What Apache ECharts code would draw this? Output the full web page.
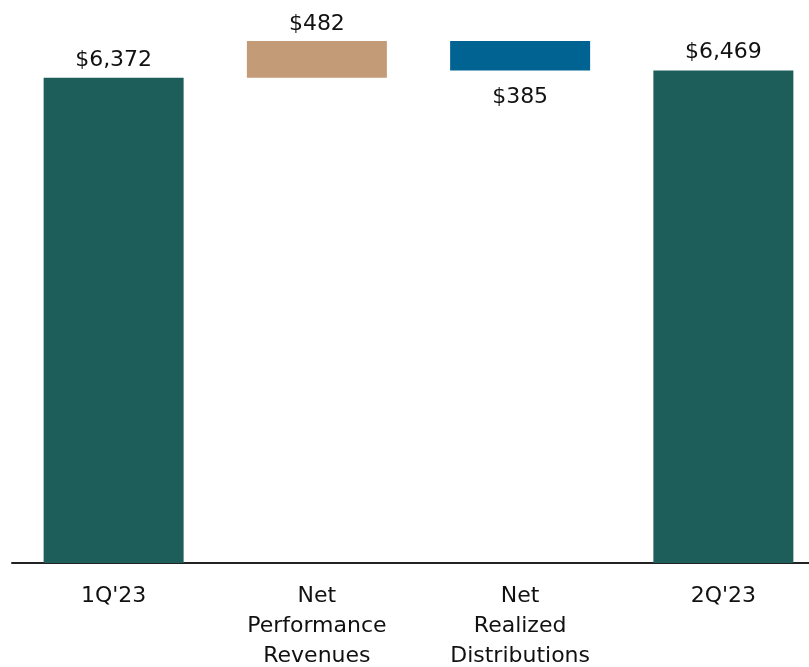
<!DOCTYPE html>
<html><head><meta charset="utf-8">
<script src="https://cdn.jsdelivr.net/npm/echarts@6/dist/echarts.min.js"></script>
<style>html,body{margin:0;padding:0;background:#fff}#c{width:809px;height:667px}</style>
</head><body><div id="c"></div>
<script>
var categories = ["1Q'23", "Net\nPerformance\nRevenues", "Net\nRealized\nDistributions", "2Q'23"];
var startValue = 6372;
var perfRevenues = 482;
var realizedDistributions = 385;
var endValue = 6469;

var visible = [startValue, perfRevenues, realizedDistributions, endValue];
var base = [0, startValue, startValue + perfRevenues - realizedDistributions, 0];
var colors = ['#1E5E5A', '#C49B77', '#006391', '#1E5E5A'];
var labelPos = ['top', 'top', 'bottom', 'top'];
var labelDist = [7, 6, 16, 7];

function fmt(v){ return '$' + v.toLocaleString('en-US'); }

var font = '"DejaVu Sans", sans-serif';
var chart = echarts.init(document.getElementById('c'));
chart.setOption({
  animation: false,
  grid: { left: 12, width: 813, top: 30, height: 533, containLabel: false, outerBoundsMode: 'none' },
  xAxis: {
    type: 'category', data: categories,
    axisLine: { show: true, lineStyle: { color: '#222', width: 2 } },
    axisTick: { show: false },
    axisLabel: { color: '#111', fontSize: 22, lineHeight: 30, margin: 18, fontFamily: font, interval: 0 }
  },
  yAxis: { type: 'value', min: 0, max: 7000, show: false, splitLine: { show: false } },
  series: [
    { type: 'bar', stack: 'w', data: base, barWidth: 140, itemStyle: { color: 'transparent' }, silent: true },
    { type: 'bar', stack: 'w', barWidth: 140,
      data: visible.map(function(v, i){
        return { value: v, itemStyle: { color: colors[i] },
          label: { show: true, position: labelPos[i], distance: labelDist[i], formatter: fmt(v),
                   color: '#111', fontSize: 22, fontFamily: font } };
      })
    }
  ]
});
</script></body></html>
